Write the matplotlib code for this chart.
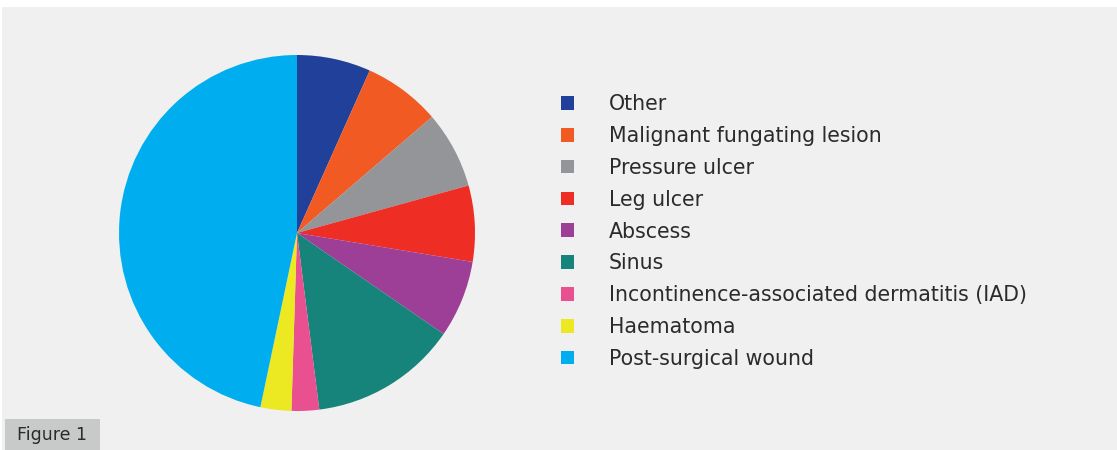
import matplotlib
matplotlib.use('Agg')
import matplotlib.pyplot as plt
from matplotlib.patches import Rectangle

W, H = 1117, 450

labels = ['Other', 'Malignant fungating lesion', 'Pressure ulcer', 'Leg ulcer',
          'Abscess', 'Sinus', 'Incontinence-associated dermatitis (IAD)',
          'Haematoma', 'Post-surgical wound']
# shares in %
shares = [6.7, 7.0, 7.0, 6.9, 7.0, 13.4, 2.5, 2.8, 46.7]
colors = ['#21409a', '#f15a22', '#939598', '#ee2d24', '#9e3f97',
          '#16847a', '#e8508f', '#ece822', '#00aeef']

bg = '#eff0ef'
plt.rcParams['font.family'] = ['DejaVu Sans']

fig = plt.figure(figsize=(W / 100, H / 100), dpi=100)
fig.patch.set_facecolor('white')

# grey panel, behind everything
fig.patches.append(Rectangle((2 / W, 0), 1, (H - 7) / H, transform=fig.transFigure,
                             facecolor=bg, edgecolor='none', zorder=-10))

# pie: centre (297, 233), radius 178 px
cx, cy, r = 297, 233, 178
ax = fig.add_axes([(cx - r) / W, (H - cy - r) / H, 2 * r / W, 2 * r / H])
ax.set_zorder(5)
wedges, _ = ax.pie(shares, colors=colors, startangle=90, counterclock=False,
                   radius=1, wedgeprops=dict(linewidth=0))
ax.set_xlim(-1, 1)
ax.set_ylim(-1, 1)
ax.set_aspect('equal')
ax.axis('off')

leg = fig.legend(wedges, labels, loc='upper left',
                 bbox_to_anchor=(553 / W, (H - 86) / H),
                 frameon=False, fontsize=14.8, handlelength=0.64, handleheight=0.64,
                 handletextpad=1.68, labelspacing=0.575, borderaxespad=0)
for t in leg.get_texts():
    t.set_color('#2b2b2b')

# "Figure 1" tag
fig.patches.append(Rectangle((5 / W, 0), 95 / W, 31 / H, transform=fig.transFigure,
                             facecolor='#c8c9c9', edgecolor='none', zorder=1))
fig.text(17 / W, 15 / H, 'Figure 1', fontsize=12.5, color='#2b2b2b',
         va='center', ha='left', zorder=2)

fig.savefig('out.png', dpi=100, facecolor='white')
